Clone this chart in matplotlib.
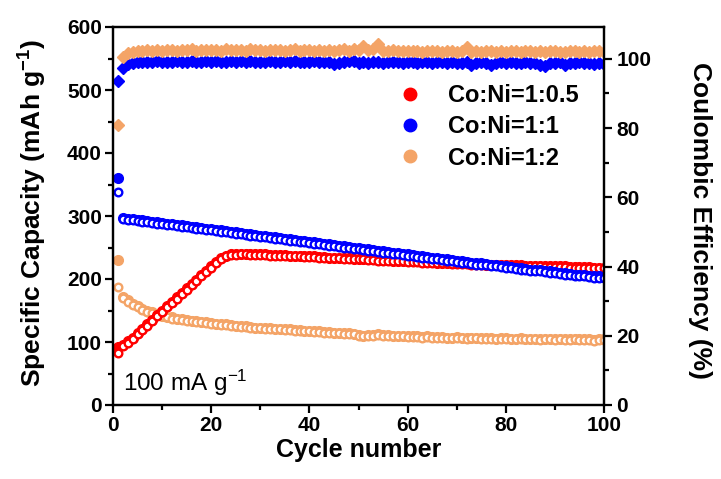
import matplotlib
matplotlib.use("Agg")
import matplotlib.pyplot as plt
from matplotlib.lines import Line2D
from matplotlib.ticker import MultipleLocator

plt.rcParams['font.family'] = ['Liberation Sans', 'DejaVu Sans']
plt.rcParams['mathtext.default'] = 'regular'

cycle = list(range(1, 101))

red_charge = [92, 96, 101, 107, 114, 121, 128, 135, 143, 150,
              157, 164, 171, 178, 185, 192, 199, 206, 213, 220,
              227, 233, 237, 239, 239, 240, 240, 239, 239, 239,
              239, 238, 238, 238, 238, 237, 237, 237, 236, 236,
              236, 235, 235, 234, 234, 234, 233, 233, 232, 232,
              232, 231, 231, 230, 230, 230, 229, 229, 229, 228,
              228, 228, 227, 227, 227, 226, 226, 226, 225, 225,
              225, 225, 224, 224, 224, 223, 223, 223, 223, 222,
              222, 222, 222, 221, 221, 221, 221, 220, 220, 220,
              220, 220, 219, 219, 219, 219, 219, 218, 218, 218]
red_discharge = [83, 94, 99, 105, 112, 119, 126, 133, 141, 148,
                 155, 162, 169, 176, 183, 190, 197, 204, 211, 218,
                 225, 231, 236, 238, 238, 239, 239, 238, 238, 238,
                 238, 237, 237, 237, 237, 236, 236, 236, 235, 235,
                 235, 234, 234, 233, 233, 233, 232, 232, 231, 231,
                 231, 230, 230, 229, 229, 229, 228, 228, 228, 227,
                 227, 227, 226, 226, 226, 225, 225, 225, 224, 224,
                 224, 224, 223, 223, 223, 222, 222, 222, 222, 221,
                 221, 221, 221, 220, 220, 220, 220, 219, 219, 219,
                 219, 219, 218, 218, 218, 218, 218, 217, 217, 217]

blue_charge = [360, 297, 296, 295, 294, 293, 292, 291, 290, 289,
               288, 287, 286, 285, 284, 283, 282, 281, 280, 279,
               278, 277, 276, 275, 274, 273, 272, 271, 270, 269,
               268, 267, 266, 265, 264, 263, 262, 261, 260, 259,
               258, 257, 256, 255, 254, 253, 252, 251, 250, 249,
               248, 247, 246, 245, 244, 243, 242, 241, 240, 239,
               238, 237, 236, 235, 234, 233, 232, 231, 230, 229,
               228, 227, 226, 225, 225, 224, 223, 222, 221, 220,
               219, 218, 217, 216, 215, 215, 214, 213, 212, 211,
               210, 209, 208, 207, 207, 206, 205, 204, 204, 203]
blue_discharge = [338, 295, 294, 293, 292, 291, 290, 289, 288, 287,
                  286, 285, 284, 283, 282, 281, 280, 279, 278, 277,
                  276, 275, 274, 273, 272, 271, 270, 269, 268, 267,
                  266, 265, 264, 263, 262, 261, 260, 259, 258, 257,
                  256, 255, 254, 253, 252, 251, 250, 249, 248, 247,
                  246, 245, 244, 243, 242, 241, 240, 239, 238, 237,
                  236, 235, 234, 233, 232, 231, 230, 229, 228, 227,
                  226, 225, 224, 223, 223, 222, 221, 220, 219, 218,
                  217, 216, 215, 214, 213, 213, 212, 211, 210, 209,
                  208, 207, 206, 205, 205, 204, 203, 202, 202, 201]

orange_charge = [230, 172, 166, 161, 157, 153, 150, 147, 145, 142,
                 140, 139, 137, 136, 135, 134, 133, 132, 131, 130,
                 129, 128, 128, 127, 126, 125, 125, 124, 123, 123,
                 122, 122, 121, 121, 120, 120, 119, 119, 118, 118,
                 117, 117, 116, 116, 115, 115, 114, 114, 113, 111,
                 110, 111, 111, 112, 111, 111, 110, 110, 110, 109,
                 109, 109, 108, 109, 108, 108, 108, 107, 107, 108,
                 107, 106, 107, 107, 106, 106, 106, 105, 106, 106,
                 105, 105, 106, 105, 105, 105, 104, 105, 105, 104,
                 105, 104, 104, 105, 104, 104, 104, 103, 104, 104]
orange_discharge = [187, 170, 164, 159, 155, 151, 148, 146, 143, 141,
                    139, 137, 136, 135, 134, 133, 132, 131, 130, 129,
                    128, 127, 127, 126, 125, 124, 124, 123, 122, 122,
                    121, 121, 120, 120, 119, 119, 118, 118, 117, 117,
                    116, 116, 115, 115, 114, 114, 113, 113, 112, 110,
                    109, 110, 110, 111, 110, 110, 109, 109, 109, 108,
                    108, 108, 107, 108, 107, 107, 107, 106, 106, 107,
                    106, 105, 106, 106, 105, 105, 105, 104, 105, 105,
                    104, 104, 105, 104, 104, 104, 103, 104, 104, 103,
                    104, 103, 103, 104, 103, 103, 103, 102, 103, 103]

blue_ce = [93.5, 97.3, 98.5, 98.9, 99.1, 99.0, 99.2, 99.1, 99.3, 99.0,
           99.2, 99.1, 99.3, 99.2, 99.0, 99.3, 99.1, 99.2, 99.4, 99.1,
           99.3, 99.2, 99.0, 99.3, 99.1, 99.4, 99.2, 99.3, 99.1, 99.2,
           99.0, 99.3, 99.1, 99.2, 99.4, 99.1, 99.3, 99.0, 99.2, 99.1,
           99.3, 99.2, 99.0, 99.1, 98.6, 98.8, 99.2, 99.4, 99.3, 98.9,
           99.2, 98.7, 99.1, 99.0, 98.9, 99.2, 99.0, 99.1, 98.9, 99.0,
           99.1, 98.8, 99.0, 99.1, 98.9, 99.0, 99.1, 98.8, 99.0, 98.9,
           98.7, 99.0, 98.2, 98.9, 99.0, 98.7, 98.1, 98.9, 99.0, 98.8,
           99.0, 98.9, 98.7, 99.0, 98.9, 98.8, 98.3, 98.0, 98.9, 98.8,
           99.0, 98.1, 98.9, 98.8, 99.0, 98.7, 98.9, 98.6, 98.9, 98.6]
orange_ce = [81.0, 100.5, 101.6, 102.0, 102.3, 102.2, 102.5, 102.4, 102.6, 102.3,
             102.5, 102.7, 102.4, 102.6, 102.5, 102.8, 102.4, 102.6, 102.7, 102.5,
             102.6, 102.4, 102.8, 102.5, 102.6, 102.7, 102.4, 102.9, 102.5, 102.6,
             102.4, 102.7, 102.5, 102.6, 102.4, 102.5, 102.8, 102.4, 102.6, 102.5,
             102.3, 102.6, 102.4, 102.5, 102.3, 102.6, 102.8, 102.4, 102.9, 102.6,
             103.8, 102.5, 102.8, 104.3, 102.4, 102.3, 102.5, 102.2, 102.4, 102.3,
             102.2, 102.4, 102.1, 102.3, 102.2, 102.4, 102.1, 102.3, 102.2, 102.0,
             102.4, 103.5, 102.1, 102.3, 102.0, 102.2, 102.4, 102.1, 102.3, 102.0,
             102.2, 102.4, 102.1, 102.3, 102.2, 102.0, 102.3, 102.1, 102.2, 102.4,
             102.1, 102.0, 102.3, 102.2, 102.1, 102.3, 102.0, 102.2, 102.3, 102.1]

labels = ['Co:Ni=1:0.5', 'Co:Ni=1:1', 'Co:Ni=1:2']
RED, BLUE, ORANGE = '#FF0000', '#0000FF', '#F4A467'

fig = plt.figure(figsize=(7.21, 4.79), dpi=100)
ax = fig.add_axes([113/721, 1-405/479, (604-113)/721, (405-27)/479])
ax2 = ax.twinx()

for ch, dis, col in [(orange_charge, orange_discharge, ORANGE),
                     (red_charge, red_discharge, RED),
                     (blue_charge, blue_discharge, BLUE)]:
    ax.plot(cycle, ch, 'o', color=col, ms=7, mec=col, ls='none')
    ax.plot(cycle, dis, 'o', color=col, ms=5.5, mfc='white', mec=col, mew=1.7, ls='none')

ax2.plot(cycle, blue_ce, 'D', color=BLUE, ms=6, mec=BLUE, ls='none')
ax2.plot(cycle, orange_ce, 'D', color=ORANGE, ms=6, mec=ORANGE, ls='none')

ax.set_xlim(0, 100)
ax.set_ylim(0, 600)
ax2.set_ylim(0, 109.2)
ax.xaxis.set_major_locator(MultipleLocator(20))
ax.xaxis.set_minor_locator(MultipleLocator(10))
ax.yaxis.set_major_locator(MultipleLocator(100))
ax.yaxis.set_minor_locator(MultipleLocator(50))
ax2.yaxis.set_major_locator(MultipleLocator(20))
ax2.yaxis.set_minor_locator(MultipleLocator(10))

for a in (ax, ax2):
    for s in a.spines.values():
        s.set_linewidth(1.6)
ax.tick_params(axis='both', which='major', direction='out', length=6, width=1.6,
               labelsize=15, pad=2)
ax.tick_params(axis='both', which='minor', direction='out', length=3.5, width=1.6)
ax.tick_params(axis='y', right=False, labelright=False)
ax2.tick_params(axis='y', which='major', direction='out', length=6, width=1.6,
                labelsize=15, pad=3)
ax2.tick_params(axis='y', which='minor', direction='out', length=3.5, width=1.6)
for lab in ax.get_xticklabels() + ax.get_yticklabels() + ax2.get_yticklabels():
    lab.set_fontweight('bold')

ax.set_xlabel('Cycle number', fontsize=18, fontweight='bold', labelpad=2)
fig.text(33/721, 1-213/479, 'Specific Capacity (mAh g$^{-1}$)', rotation=90,
         ha='center', va='center', fontsize=19, fontweight='bold')
fig.text(700/721, 1-220/479, 'Coulombic Efficiency (%)', rotation=270,
         ha='center', va='center', fontsize=19, fontweight='bold')

ax.text(2.0, 22, '100 mA g$^{-1}$', fontsize=17.5, ha='left', va='baseline')

handles = [Line2D([], [], marker='o', ls='none', color=c, ms=9) for c in (RED, BLUE, ORANGE)]
ax2.legend(handles, labels, loc='upper left', bbox_to_anchor=(398/721, 1-84/479),
           bbox_transform=fig.transFigure, frameon=False, borderpad=0, borderaxespad=0,
           handlelength=1.0, handletextpad=1.1, labelspacing=0.35,
           prop={'size': 17, 'weight': 'bold'})

fig.savefig('out.png', dpi=100)
